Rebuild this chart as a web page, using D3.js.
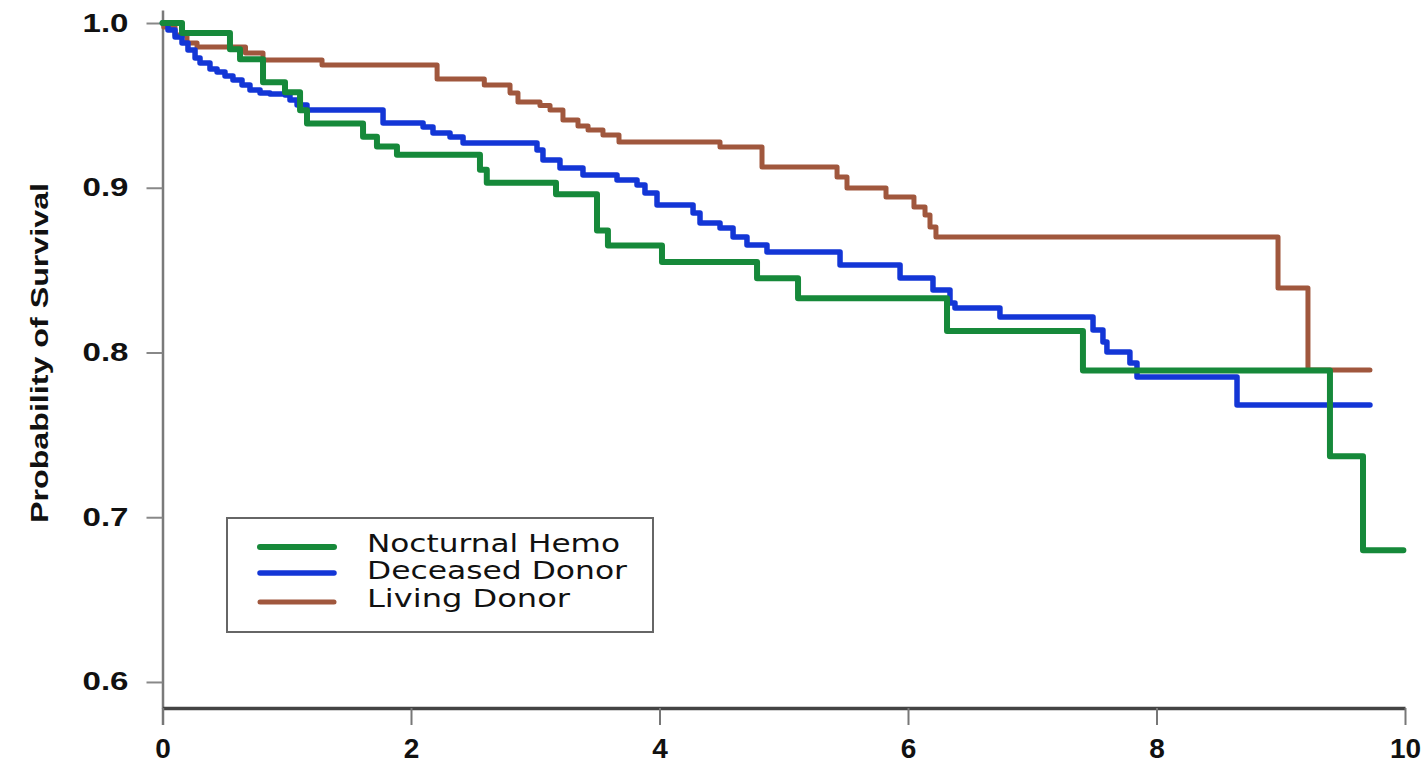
<!DOCTYPE html>
<html>
<head>
<meta charset="utf-8">
<script src="https://cdn.jsdelivr.net/npm/d3@7"></script>
<style>
  body { margin: 0; background: #fff; }
  svg { display: block; }
</style>
</head>
<body>
<div id="chart"></div>
<script>
// survival curves as [years, probability] steps
const nocturnalHemo = [
  [0, 1.0], [0.157, 0.994], [0.543, 0.984], [0.624, 0.978], [0.809, 0.964],
  [0.986, 0.958], [1.107, 0.947], [1.163, 0.939], [1.614, 0.931], [1.726, 0.925],
  [1.887, 0.92], [2.555, 0.911], [2.61, 0.903], [3.167, 0.896], [3.497, 0.874],
  [3.585, 0.865], [4.02, 0.855], [4.785, 0.845], [5.115, 0.833], [6.314, 0.813],
  [7.408, 0.789], [9.396, 0.737], [9.662, 0.68], [9.987, 0.68]
];
const deceasedDonor = [
  [0, 1.0], [0.044, 0.9958], [0.101, 0.9915], [0.157, 0.9879], [0.205, 0.9836],
  [0.262, 0.9788], [0.302, 0.9757], [0.382, 0.9721], [0.439, 0.9703], [0.503, 0.9679],
  [0.567, 0.9654], [0.64, 0.9624], [0.704, 0.9594], [0.785, 0.9575], [0.865, 0.9569],
  [0.986, 0.9563], [1.026, 0.9533], [1.083, 0.9502], [1.163, 0.9472], [1.775, 0.9393],
  [2.097, 0.9369], [2.177, 0.9332], [2.314, 0.9308], [2.419, 0.9272], [3.014, 0.9229],
  [3.062, 0.9168], [3.199, 0.912], [3.384, 0.9077], [3.658, 0.9047], [3.819, 0.9017],
  [3.883, 0.8968], [3.98, 0.8895], [4.27, 0.8847], [4.326, 0.8786], [4.487, 0.8756],
  [4.592, 0.8701], [4.704, 0.8653], [4.865, 0.861], [5.453, 0.8531], [5.936, 0.8452],
  [6.201, 0.8379], [6.338, 0.83], [6.378, 0.827], [6.74, 0.8215], [7.489, 0.8137],
  [7.569, 0.8064], [7.601, 0.8003], [7.786, 0.7936], [7.843, 0.7851], [8.648, 0.7681],
  [9.718, 0.7681]
];
const livingDonor = [
  [0, 1.0], [0.01, 0.9976], [0.101, 0.9927], [0.197, 0.9879], [0.278, 0.9854],
  [0.668, 0.9818], [0.809, 0.9775], [1.284, 0.9745], [2.21, 0.966], [2.59, 0.9624],
  [2.797, 0.9575], [2.861, 0.952], [3.038, 0.95], [3.119, 0.9472], [3.223, 0.9411],
  [3.344, 0.9375], [3.425, 0.9351], [3.545, 0.932], [3.674, 0.9278], [4.487, 0.9247],
  [4.825, 0.9126], [5.429, 0.9065], [5.509, 0.8998], [5.823, 0.8944], [6.048, 0.8883],
  [6.137, 0.8835], [6.177, 0.8762], [6.225, 0.8701], [8.978, 0.8391], [9.219, 0.7894],
  [9.718, 0.7894]
];

const seriesNames = ["Nocturnal Hemo", "Deceased Donor", "Living Donor"];
const seriesColors = ["#16893a", "#1336d6", "#a0573d"];
const xTicks = [0, 2, 4, 6, 8, 10];
const yTicks = [0.6, 0.7, 0.8, 0.9, 1.0];

const width = 1425,
  height = 770;

const x = d3.scaleLinear().domain([0, 10]).range([162.5, 1405]);
const y = d3.scaleLinear().domain([0.5842, 1.0079]).range([708, 10]);

const svg = d3
  .select("#chart")
  .append("svg")
  .attr("width", width)
  .attr("height", height);

// y axis
const yAxis = svg
  .append("g")
  .attr("transform", "translate(162.5,0)")
  .call(
    d3.axisLeft(y).tickValues(yTicks).tickFormat(d3.format(".1f"))
      .tickSize(16).tickSizeOuter(0).tickPadding(18)
  );
yAxis.select(".domain").attr("stroke", "#7a7a7a").attr("stroke-width", 2.5);
yAxis.selectAll(".tick line").attr("stroke", "#888").attr("stroke-width", 2);
yAxis
  .selectAll(".tick text")
  .attr("fill", "#111")
  .style("font-family", "Liberation Sans, Arial, sans-serif")
  .style("font-weight", "bold")
  .style("font-size", "25px")
  .attr("textLength", 46)
  .attr("lengthAdjust", "spacingAndGlyphs");

// x axis
const xAxis = svg
  .append("g")
  .attr("transform", "translate(0,708)")
  .call(
    d3.axisBottom(x).tickValues(xTicks).tickFormat(d3.format("d"))
      .tickSize(17).tickSizeOuter(0).tickPadding(13)
  );
xAxis.select(".domain").attr("stroke", "#444").attr("stroke-width", 3.5);
xAxis.selectAll(".tick line").attr("stroke", "#777").attr("stroke-width", 2);
xAxis.select(".tick line").attr("stroke-width", 2.5);
xAxis
  .selectAll(".tick text")
  .attr("fill", "#111")
  .style("font-family", "Liberation Sans, Arial, sans-serif")
  .style("font-weight", "bold")
  .style("font-size", "28px");

// y title
svg
  .append("text")
  .attr("transform", "translate(48,353) rotate(-90)")
  .attr("text-anchor", "middle")
  .attr("fill", "#111")
  .style("font-family", "Liberation Sans, Arial, sans-serif")
  .style("font-weight", "bold")
  .style("font-size", "24px")
  .attr("textLength", 340)
  .attr("lengthAdjust", "spacingAndGlyphs")
  .text("Probability of Survival");

// curves
const line = d3
  .line()
  .x((d) => x(d[0]))
  .y((d) => y(d[1]))
  .curve(d3.curveStepAfter);

const allSeries = [nocturnalHemo, deceasedDonor, livingDonor];
const strokeWidths = [6, 5.5, 5];

// draw living first, then deceased, then nocturnal on top
[2, 1, 0].forEach(function (i) {
  svg
    .append("path")
    .datum(allSeries[i])
    .attr("fill", "none")
    .attr("stroke", seriesColors[i])
    .attr("stroke-width", strokeWidths[i])
    .attr("stroke-linejoin", "round")
    .attr("stroke-linecap", "round")
    .attr("d", line);
});

// legend
const legend = svg.append("g");
legend
  .append("rect")
  .attr("x", 227)
  .attr("y", 518)
  .attr("width", 426)
  .attr("height", 114)
  .attr("fill", "#fff")
  .attr("stroke", "#666")
  .attr("stroke-width", 2);

const legendLineY = [547, 573, 602];
const legendTextY = [552, 579, 607];
const legendTextLen = [253, 260, 203];
seriesNames.forEach(function (name, i) {
  legend
    .append("line")
    .attr("x1", 260)
    .attr("x2", 334)
    .attr("y1", legendLineY[i])
    .attr("y2", legendLineY[i])
    .attr("stroke", seriesColors[i])
    .attr("stroke-width", strokeWidths[i])
    .attr("stroke-linecap", "round");
  legend
    .append("text")
    .attr("x", 367)
    .attr("y", legendTextY[i])
    .attr("fill", "#111")
    .style("font-family", "DejaVu Sans, sans-serif")
    .style("font-size", "24px")
    .attr("textLength", legendTextLen[i])
    .attr("lengthAdjust", "spacingAndGlyphs")
    .text(name);
});
</script>
</body>
</html>
